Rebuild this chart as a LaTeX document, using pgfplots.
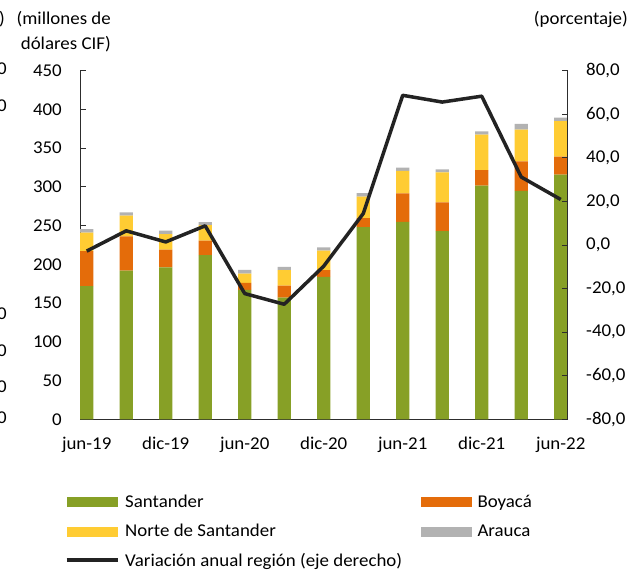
\documentclass[border=0pt]{standalone}
\usepackage{pgfplots}
\pgfplotsset{compat=1.18}
\usepackage{fontspec}
\setmainfont{Carlito}[FakeStretch=1.05]
\definecolor{cS}{RGB}{135,160,38}
\definecolor{cB}{RGB}{228,108,10}
\definecolor{cN}{RGB}{255,204,51}
\definecolor{cA}{RGB}{178,178,178}
\definecolor{cL}{RGB}{35,35,35}
\definecolor{cAx}{RGB}{45,45,45}
\newcommand{\ff}{\fontsize{18bp}{22bp}\selectfont}
\begin{document}
\begin{tikzpicture}[x=1bp,y=1bp]
\begin{axis}[
  at={(80bp,151.7bp)}, anchor=south west,
  scale only axis, width=487.7bp, height=348.6bp,
  xmin=-0.17, xmax=12.177, ymin=0, ymax=450,
  enlargelimits=false,
  axis x line*=bottom, axis y line*=left,
  axis line style={cAx, line width=0.8bp},
  ybar stacked, bar width=13.3bp,
  font=\ff,
  tick align=inside, major tick length=6bp,
  tick style={cAx, line width=0.8bp},
  xtick={-0.17,1.83,3.83,5.83,7.83,9.83,11.83},
  xticklabels={jun-19,dic-19,jun-20,dic-20,jun-21,dic-21,jun-22},
  xticklabel style={font=\ff, anchor=base, inner sep=0pt, xshift=6.7bp, yshift=-30.7bp},
  ytick={0,50,...,450},
  yticklabels={0,50,100,150,200,250,300,350,400,450},
  yticklabel style={font=\ff, anchor=east, inner sep=0pt, xshift=-18bp},
  legend columns=2,
  legend cell align=left,
  legend style={draw=none, fill=none, font=\ff,
    at={(-0.03076,-0.2143)}, anchor=north west,
    inner sep=0pt, outer sep=0pt, row sep=11.7bp,
    nodes={inner sep=0pt, text height=13bp, text depth=5bp},
    /tikz/every odd column/.append style={column sep=5.7bp}},
]
\addplot[fill=cS, draw=none, legend image code/.code={\fill[cS] (0bp,-4.3bp) rectangle (51bp,5.7bp);}]
  coordinates {(0,172) (1,192) (2,196) (3,212) (4,167) (5,157) (6,184) (7,248) (8,255) (9,243) (10,301.5) (11,295) (12,316)};
\addlegendentry{\makebox[295.6bp][l]{Santander}}
\addplot[fill=cB, draw=none, legend image code/.code={\fill[cB] (0bp,-4.3bp) rectangle (51bp,5.7bp);}]
  coordinates {(0,45) (1,44) (2,23) (3,18.5) (4,9) (5,15.5) (6,8.6) (7,11.6) (8,36.6) (9,37) (10,20) (11,38) (12,23)};
\addlegendentry{Boyacá}
\addplot[fill=cN, draw=none, legend image code/.code={\fill[cN] (0bp,-4.3bp) rectangle (51bp,5.7bp);}]
  coordinates {(0,24) (1,27) (2,20) (3,20) (4,12) (5,20) (6,25) (7,28) (8,29) (9,38.7) (10,46) (11,41) (12,46)};
\addlegendentry{\makebox[295.6bp][l]{Norte de Santander}}
\addplot[fill=cA, draw=none, legend image code/.code={\fill[cA] (0bp,-4.3bp) rectangle (51bp,5.7bp);}]
  coordinates {(0,4.5) (1,4) (2,4.5) (3,4) (4,5) (5,4.3) (6,4.3) (7,4.2) (8,4.2) (9,4) (10,4.2) (11,7.4) (12,4.3)};
\addlegendentry{Arauca}
\addlegendimage{legend image code/.code={\draw[cL, line width=3.5bp] (0bp,2.6bp) -- (51bp,2.6bp);}}
\addlegendentry{\makebox[295.6bp][l]{Variación anual región (eje derecho)}}
\end{axis}
\begin{axis}[
  at={(80bp,151.7bp)}, anchor=south west,
  scale only axis, width=487.7bp, height=348.6bp,
  xmin=-0.17, xmax=12.177, ymin=-80, ymax=80,
  enlargelimits=false,
  axis x line=none, axis y line*=right,
  axis line style={cAx, line width=0.8bp},
  font=\ff,
  tick align=inside, major tick length=6bp,
  tick style={cAx, line width=0.8bp},
  ytick={-80,-60,...,80},
  yticklabels={{-80,0},{-60,0},{-40,0},{-20,0},{0,0},{20,0},{40,0},{60,0},{80,0}},
  yticklabel style={font=\ff, anchor=west, inner sep=0pt, xshift=18.3bp},
]
\addplot[cL, line width=3.5bp, line join=round, mark=none]
  coordinates {(0,-2.8) (1,6.5) (2,1.4) (3,8.8) (4,-22.3) (5,-27.2) (6,-9.7) (7,14.4) (8,68.7) (9,65.6) (10,68.3) (11,31.2) (12,20.9)};
\end{axis}
\node[anchor=base east, inner sep=0pt, font=\ff] at (111,546) {(millones de};
\node[anchor=base east, inner sep=0pt, font=\ff] at (111,521) {dólares CIF)};
\node[anchor=base east, inner sep=0pt, font=\ff] at (628,546) {(porcentaje)};
\node[anchor=base east, inner sep=0pt, font=\ff] at (5,546) {)};
\foreach \yy in {501.8,465,257,220,184,153.4}{
  \node[anchor=east, inner sep=0pt, font=\ff] at (7,\yy) {0};
}
\pgfresetboundingbox
\useasboundingbox (0,0) rectangle (639,571);
\end{tikzpicture}
\end{document}
